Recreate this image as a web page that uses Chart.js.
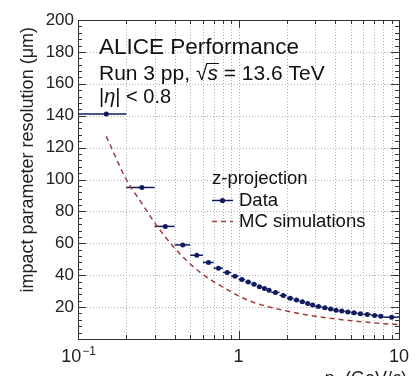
<!DOCTYPE html>
<html>
<head>
<meta charset="utf-8">
<script src="https://cdn.jsdelivr.net/npm/chart.js@4"></script>
<style>
  html, body { margin: 0; padding: 0; background: #fff; }
</style>
</head>
<body>
<canvas id="resChart" width="416" height="376"></canvas>
<script>
// Data points: pT bin centres, bin edges and resolution (um)
const ptCenters = [0.15, 0.25, 0.35, 0.45, 0.55, 0.65, 0.75, 0.85, 0.95, 1.05, 1.15, 1.25, 1.35, 1.45, 1.55,
  1.7, 1.9, 2.1, 2.3, 2.5, 2.7, 2.9,
  3.15, 3.45, 3.75, 4.05, 4.4, 4.8, 5.25, 5.75, 6.35, 7.05, 7.7, 9.0];
const ptEdges = [0.1, 0.2, 0.3, 0.4, 0.5, 0.6, 0.7, 0.8, 0.9, 1.0, 1.1, 1.2, 1.3, 1.4, 1.5, 1.6,
  1.8, 2.0, 2.2, 2.4, 2.6, 2.8, 3.0,
  3.3, 3.6, 3.9, 4.2, 4.6, 5.0, 5.5, 6.0, 6.7, 7.4, 8.0, 10.0];
const resData = [141, 95, 70.6, 59, 52.5, 48, 44.4, 41.7, 39.4, 37.3, 35.8, 34.4, 32.7, 31.7, 30.6,
  29.2, 27.3, 25.6, 24.4, 23.3, 22.3, 21.3,
  20.4, 19.6, 18.8, 18.1, 17.5, 17.0, 16.4, 15.8, 15.4, 14.8, 14.2, 13.7];

// MC simulation curve
const mcPt = [0.15, 0.2, 0.25, 0.3, 0.35, 0.4, 0.5, 0.6, 0.7, 0.8, 0.9, 1.0, 1.2, 1.5, 2.0, 2.5, 3.0, 4.0, 5.0, 6.0, 7.0, 8.0, 10.0];
const mcRes = [127, 100, 85, 73, 64, 57, 47, 40.5, 36, 32.5, 29.5, 27, 23.5, 20.5, 17.5, 15.6, 14.3, 12.6, 11.5, 10.7, 10.1, 9.6, 9.0];

// Axis ticks
const yTicks = [0, 20, 40, 60, 80, 100, 120, 140, 160, 180, 200];
const xGrid = [0.2, 0.3, 0.4, 0.5, 0.6, 0.7, 0.8, 0.9, 1, 2, 3, 4, 5, 6, 7, 8, 9];

const navy = '#101a5e';
const mcRed = '#a23a3a';
const font = '"Liberation Sans", Arial, sans-serif';

// grid, error bars, frame, ticks and text
const rootStyle = {
  id: 'rootStyle',
  beforeDatasetsDraw(chart) {
    const c = chart.ctx, a = chart.chartArea;
    const xs = chart.scales.x, ys = chart.scales.y;
    c.save();
    c.strokeStyle = '#b0b0b0';
    c.lineWidth = 1;
    c.setLineDash([1, 2]);
    xGrid.forEach(v => {
      const px = Math.round(xs.getPixelForValue(v)) + 0.5;
      c.beginPath(); c.moveTo(px, a.top); c.lineTo(px, a.bottom); c.stroke();
    });
    yTicks.slice(1, -1).forEach(v => {
      const py = Math.round(ys.getPixelForValue(v)) + 0.5;
      c.beginPath(); c.moveTo(a.left, py); c.lineTo(a.right, py); c.stroke();
    });
    c.setLineDash([]);
    // horizontal error bars (bin widths)
    c.strokeStyle = navy;
    c.lineWidth = 1.5;
    resData.forEach((v, i) => {
      const py = ys.getPixelForValue(v);
      c.beginPath();
      c.moveTo(xs.getPixelForValue(ptEdges[i]), py);
      c.lineTo(xs.getPixelForValue(ptEdges[i + 1]), py);
      c.stroke();
    });
    c.restore();
  },
  afterDatasetsDraw(chart) {
    const c = chart.ctx, a = chart.chartArea;
    const xs = chart.scales.x, ys = chart.scales.y;
    c.save();
    // frame
    c.strokeStyle = '#333';
    c.lineWidth = 1;
    c.strokeRect(Math.round(a.left) + 0.5, Math.round(a.top) + 0.5,
      Math.round(a.right - a.left), Math.round(a.bottom - a.top));
    // y ticks
    for (let v = 0; v <= 200; v += 4) {
      const py = Math.round(ys.getPixelForValue(v)) + 0.5;
      const len = v % 20 === 0 ? 8 : 4;
      c.beginPath();
      c.moveTo(a.left, py); c.lineTo(a.left + len, py);
      c.moveTo(a.right, py); c.lineTo(a.right - len, py);
      c.stroke();
    }
    // x ticks
    xGrid.forEach(v => {
      const px = Math.round(xs.getPixelForValue(v)) + 0.5;
      const len = v === 1 ? 8 : 4;
      c.beginPath();
      c.moveTo(px, a.bottom); c.lineTo(px, a.bottom - len);
      c.moveTo(px, a.top); c.lineTo(px, a.top + len);
      c.stroke();
    });
    // x tick labels
    c.fillStyle = '#222';
    c.textBaseline = 'alphabetic';
    c.font = '18px ' + font;
    const lblY = 362;
    c.textAlign = 'center';
    c.fillText('1', xs.getPixelForValue(1), lblY);
    c.fillText('10', xs.getPixelForValue(10), lblY);
    const x01 = xs.getPixelForValue(0.1);
    c.textAlign = 'left';
    const w10 = c.measureText('10').width;
    c.font = '12px ' + font;
    const wExp = c.measureText('\u22121').width;
    const start = x01 - (w10 + wExp) / 2;
    c.font = '18px ' + font;
    c.fillText('10', start, lblY);
    c.font = '12px ' + font;
    c.fillText('\u22121', start + w10 + 1, lblY - 7);

    // y axis title
    c.save();
    c.translate(33, 27);
    c.rotate(-Math.PI / 2);
    c.textAlign = 'right';
    c.font = '18px ' + font;
    c.fillText('impact parameter resolution (\u03bcm)', 0, 0);
    c.restore();

    // x axis title (cut off at the bottom)
    c.textAlign = 'left';
    let tx = 324;
    const tY = 384;
    c.font = 'italic 18px ' + font;
    c.fillText('p', tx, tY);
    tx += c.measureText('p').width;
    c.font = '13px ' + font;
    c.fillText('T', tx, tY + 4);
    tx += c.measureText('T').width + 3;
    c.font = '18px ' + font;
    c.fillText('(GeV/', tx, tY);
    tx += c.measureText('(GeV/').width;
    c.font = 'italic 18px ' + font;
    c.fillText('c', tx, tY);
    tx += c.measureText('c').width;
    c.font = '18px ' + font;
    c.fillText(')', tx, tY);

    // header text
    c.fillStyle = '#111';
    c.font = '22.5px ' + font;
    c.fillText('ALICE Performance', 99, 54);
    c.font = '21px ' + font;
    let rx = 99;
    const ry = 80;
    c.fillText('Run 3 pp, ', rx, ry);
    rx += c.measureText('Run 3 pp, ').width;
    c.fillText('\u221a', rx, ry);
    rx += c.measureText('\u221a').width;
    c.font = 'italic 21px ' + font;
    c.fillText('s', rx, ry);
    const sw = c.measureText('s').width;
    c.lineWidth = 1;
    c.strokeStyle = '#111';
    c.beginPath(); c.moveTo(rx - 1, ry - 16.5); c.lineTo(rx + sw + 1, ry - 16.5); c.stroke();
    rx += sw;
    c.font = '21px ' + font;
    c.fillText(' = 13.6 TeV', rx, ry);

    let ex = 99;
    const ey = 103;
    c.font = '20px ' + font;
    c.fillText('|', ex, ey);
    ex += c.measureText('|').width;
    c.font = 'italic 20px ' + font;
    c.fillText('\u03b7', ex, ey);
    ex += c.measureText('\u03b7').width;
    c.font = '20px ' + font;
    c.fillText('| < 0.8', ex, ey);

    // legend
    c.font = '18.5px ' + font;
    c.fillText('z-projection', 212, 184);
    c.fillText('Data', 239, 206);
    c.fillText('MC simulations', 239, 227);
    c.strokeStyle = navy;
    c.lineWidth = 1.5;
    c.beginPath(); c.moveTo(212, 200.5); c.lineTo(233, 200.5); c.stroke();
    c.fillStyle = navy;
    c.beginPath(); c.arc(222.5, 200.5, 2.6, 0, Math.PI * 2); c.fill();
    c.strokeStyle = mcRed;
    c.setLineDash([5, 4]);
    c.beginPath(); c.moveTo(212, 221.5); c.lineTo(233, 221.5); c.stroke();
    c.setLineDash([]);
    c.restore();
  }
};

const ctx = document.getElementById('resChart').getContext('2d');
const resChart = new Chart(ctx, {
  type: 'scatter',
  data: {
    datasets: [{
      label: 'Data',
      data: ptCenters.map((x, i) => ({ x: x, y: resData[i] })),
      showLine: false,
      pointRadius: 2.5,
      pointBorderWidth: 0,
      backgroundColor: navy,
      borderColor: navy,
      order: 1
    }, {
      label: 'MC simulations',
      data: mcPt.map((x, i) => ({ x: x, y: mcRes[i] })),
      showLine: true,
      pointRadius: 0,
      borderColor: mcRed,
      borderWidth: 1.5,
      borderDash: [5, 4],
      cubicInterpolationMode: 'monotone',
      order: 2
    }]
  },
  options: {
    responsive: false,
    animation: false,
    devicePixelRatio: 1,
    layout: { padding: { top: 20, right: 17, left: 0, bottom: 0 } },
    plugins: { legend: { display: false }, tooltip: { enabled: false } },
    scales: {
      x: {
        type: 'logarithmic',
        min: 0.1,
        max: 10,
        grid: { display: false, drawTicks: false },
        border: { display: false },
        ticks: { display: false },
        afterFit: s => { s.height = 37; }
      },
      y: {
        min: 0,
        max: 200,
        grid: { display: false, drawTicks: false },
        border: { display: false },
        afterBuildTicks: s => { s.ticks = yTicks.map(v => ({ value: v })); },
        ticks: {
          padding: 4,
          color: '#222',
          font: { family: font, size: 17 },
          callback: v => (v === 0 ? '' : v)
        },
        afterFit: s => { s.width = 78; }
      }
    }
  },
  plugins: [rootStyle]
});
</script>
</body>
</html>
